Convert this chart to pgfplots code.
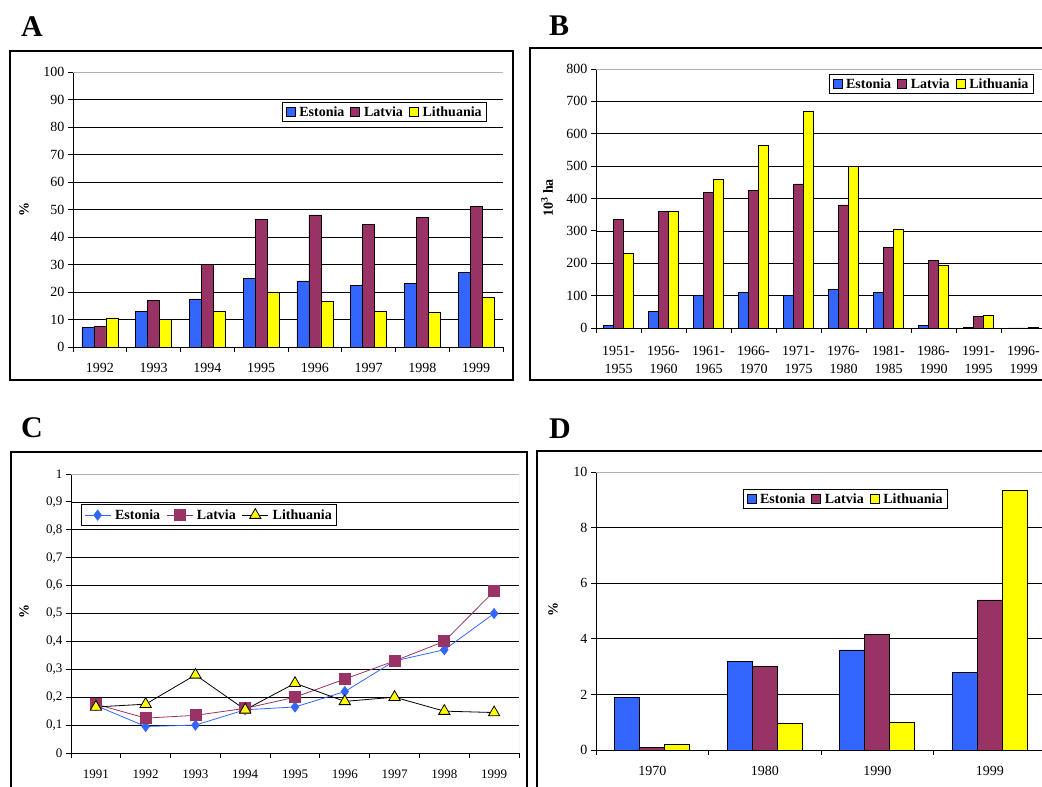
\documentclass[border=0pt]{standalone}
\usepackage{fontspec}
\setmainfont{Liberation Serif}
\usepackage{pgfplots}
\pgfplotsset{compat=1.18}
\definecolor{est}{HTML}{3366FF}
\definecolor{lat}{HTML}{993366}
\definecolor{lit}{HTML}{FFFF00}
\pgfplotsset{
  /pgf/number format/assume math mode=true,
  base/.style={
    scale only axis, anchor=south west,
    axis lines=left, axis line style={-, line width=0.8pt},
    tick align=outside, major tick length=5pt, minor tick length=5pt,
    tick style={black, line width=0.8pt},
    major x tick style={draw=none},
    ymajorgrids, major grid style={black, line width=0.6pt},
    tick label style={font=\fontsize{14}{18}\selectfont},
    xticklabel style={yshift=-8pt},
    legend style={draw=black, line width=0.8pt, font=\bfseries\fontsize{14}{15}\selectfont,
      legend columns=3, inner xsep=3pt, inner ysep=2pt,
      /tikz/every even column/.append style={column sep=4pt},
      /tikz/every odd column/.append style={column sep=2pt}},
  },
  barlegend/.style={legend image code/.code={\draw[##1,draw=black,line width=0.6pt] (0pt,-4.5pt) rectangle (9pt,4.5pt);}},
}
\begin{document}
\begin{tikzpicture}[x=1pt,y=1pt]
\useasboundingbox (0,0) rectangle (1042,787);
\draw[line width=1.5pt] (10,407) rectangle (513,736);
\draw[line width=1.5pt] (530,407) rectangle (1060,739);
\draw[line width=1.5pt] (11,-10) rectangle (527,335);
\draw[line width=1.5pt] (537,-10) rectangle (1060,336);
\node[font=\bfseries\fontsize{30}{32}\selectfont] at (32,760) {A};
\node[font=\bfseries\fontsize{30}{32}\selectfont] at (559,761) {B};
\node[font=\bfseries\fontsize{30}{32}\selectfont] at (32,359) {C};
\node[font=\bfseries\fontsize{30}{32}\selectfont] at (560,358) {D};
\node[font=\bfseries\fontsize{14}{16}\selectfont, rotate=90] at (24,577) {\%};
\node[font=\bfseries\fontsize{14}{16}\selectfont, rotate=90] at (547,589) {10\textsuperscript{3} ha};
\node[font=\bfseries\fontsize{14}{16}\selectfont, rotate=90] at (24,175) {\%};
\node[font=\bfseries\fontsize{14}{16}\selectfont, rotate=90] at (553,177) {\%};

% ---------- A ----------
\begin{axis}[base, at={(73pt,440pt)}, width=430pt, height=275pt,
  xmin=-0.5, xmax=7.5, ymin=0, ymax=100, ytick={0,10,...,100},
  xtick={0,...,7}, xticklabels={1992,1993,1994,1995,1996,1997,1998,1999},
  minor xtick={-0.5,0.5,...,7.5},
  ybar=0pt, bar width=12pt, barlegend,
  legend style={at={(0.963,0.891)}, anchor=north east}]
\addplot[fill=est, draw=black, line width=0.6pt] coordinates {(0,7) (1,13) (2,17.5) (3,25) (4,24) (5,22.5) (6,23) (7,27)};
\addplot[fill=lat, draw=black, line width=0.6pt] coordinates {(0,7.5) (1,17) (2,30) (3,46.5) (4,48) (5,44.5) (6,47) (7,51)};
\addplot[fill=lit, draw=black, line width=0.6pt] coordinates {(0,10.5) (1,10) (2,13) (3,20) (4,16.5) (5,13) (6,12.5) (7,18)};
\legend{Estonia,Latvia,Lithuania}
\draw[gray!60, line width=0.8pt] (rel axis cs:0,1) -- (rel axis cs:1,1) -- (rel axis cs:1,0);
\end{axis}

% ---------- B ----------
\begin{axis}[base, at={(596pt,459pt)}, width=450pt, height=259pt,
  xmin=-0.5, xmax=9.5, ymin=0, ymax=800, ytick={0,100,...,800},
  xtick={0,...,9}, xticklabels={{1951-\\1955},{1956-\\1960},{1961-\\1965},{1966-\\1970},{1971-\\1975},{1976-\\1980},{1981-\\1985},{1986-\\1990},{1991-\\1995},{1996-\\1999}},
  xticklabel style={align=center, yshift=-2pt},
  minor xtick={-0.5,0.5,...,9.5},
  ybar=0pt, bar width=10pt, barlegend,
  legend style={at={(0.518,0.981)}, anchor=north west}]
\addplot[fill=est, draw=black, line width=0.6pt] coordinates {(0,8) (1,52) (2,100) (3,110) (4,100) (5,120) (6,110) (7,8) (8,1) (9,0)};
\addplot[fill=lat, draw=black, line width=0.6pt] coordinates {(0,335) (1,360) (2,420) (3,425) (4,445) (5,380) (6,250) (7,210) (8,35) (9,0)};
\addplot[fill=lit, draw=black, line width=0.6pt] coordinates {(0,230) (1,360) (2,460) (3,565) (4,670) (5,500) (6,305) (7,195) (8,40) (9,2)};
\legend{Estonia,Latvia,Lithuania}
\draw[gray!60, line width=0.8pt] (rel axis cs:0,1) -- (rel axis cs:1,1) -- (rel axis cs:1,0);
\end{axis}

% ---------- C ----------
\begin{axis}[base, at={(71pt,34pt)}, width=448pt, height=279pt,
  xmin=-0.5, xmax=8.5, ymin=0, ymax=1, ytick={0,0.1,...,1.0},
  xtick={0,...,8}, xticklabels={1991,1992,1993,1994,1995,1996,1997,1998,1999},
  minor xtick={-0.5,0.5,...,8.5},
  tick label style={font=\fontsize{13}{15}\selectfont},
  yticklabel style={/pgf/number format/use comma, /pgf/number format/fixed, /pgf/number format/precision=1},
  legend image code/.code={\draw[mark repeat=2,mark phase=2,#1] plot coordinates {(0pt,0pt) (13pt,0pt) (26pt,0pt)};},
  legend style={at={(0.022,0.892)}, anchor=north west, inner ysep=3pt}]
\addplot[est, line width=0.8pt, mark=diamond*, mark size=5pt, mark options={fill=est, draw=est}] coordinates {(0,0.17) (1,0.095) (2,0.1) (3,0.155) (4,0.165) (5,0.22) (6,0.33) (7,0.37) (8,0.5)};
\addplot[lat, line width=0.8pt, mark=square*, mark size=5.5pt, mark options={fill=lat, draw=lat}] coordinates {(0,0.175) (1,0.125) (2,0.135) (3,0.16) (4,0.2) (5,0.265) (6,0.33) (7,0.4) (8,0.58)};
\addplot[black, line width=0.8pt, mark=triangle*, mark size=6.5pt, mark options={fill=lit, draw=black}] coordinates {(0,0.165) (1,0.175) (2,0.28) (3,0.155) (4,0.25) (5,0.185) (6,0.2) (7,0.15) (8,0.145)};
\legend{Estonia,Latvia,Lithuania}
\draw[gray!60, line width=0.8pt] (rel axis cs:0,1) -- (rel axis cs:1,1) -- (rel axis cs:1,0);
\end{axis}

% ---------- D ----------
\begin{axis}[base, at={(596pt,37pt)}, width=450pt, height=278pt,
  xmin=-0.5, xmax=3.5, ymin=0, ymax=10, ytick={0,2,...,10},
  xtick={0,...,3}, xticklabels={1970,1980,1990,1999},
  minor xtick={-0.5,0.5,...,3.5},
  ybar=0pt, bar width=25pt, barlegend,
  legend style={at={(0.327,0.939)}, anchor=north west}]
\addplot[fill=est, draw=black, line width=0.6pt] coordinates {(0,1.9) (1,3.2) (2,3.6) (3,2.8)};
\addplot[fill=lat, draw=black, line width=0.6pt] coordinates {(0,0.1) (1,3.0) (2,4.15) (3,5.4)};
\addplot[fill=lit, draw=black, line width=0.6pt] coordinates {(0,0.2) (1,0.95) (2,1.0) (3,9.35)};
\legend{Estonia,Latvia,Lithuania}
\draw[gray!60, line width=0.8pt] (rel axis cs:0,1) -- (rel axis cs:1,1) -- (rel axis cs:1,0);
\end{axis}
\end{tikzpicture}
\end{document}
